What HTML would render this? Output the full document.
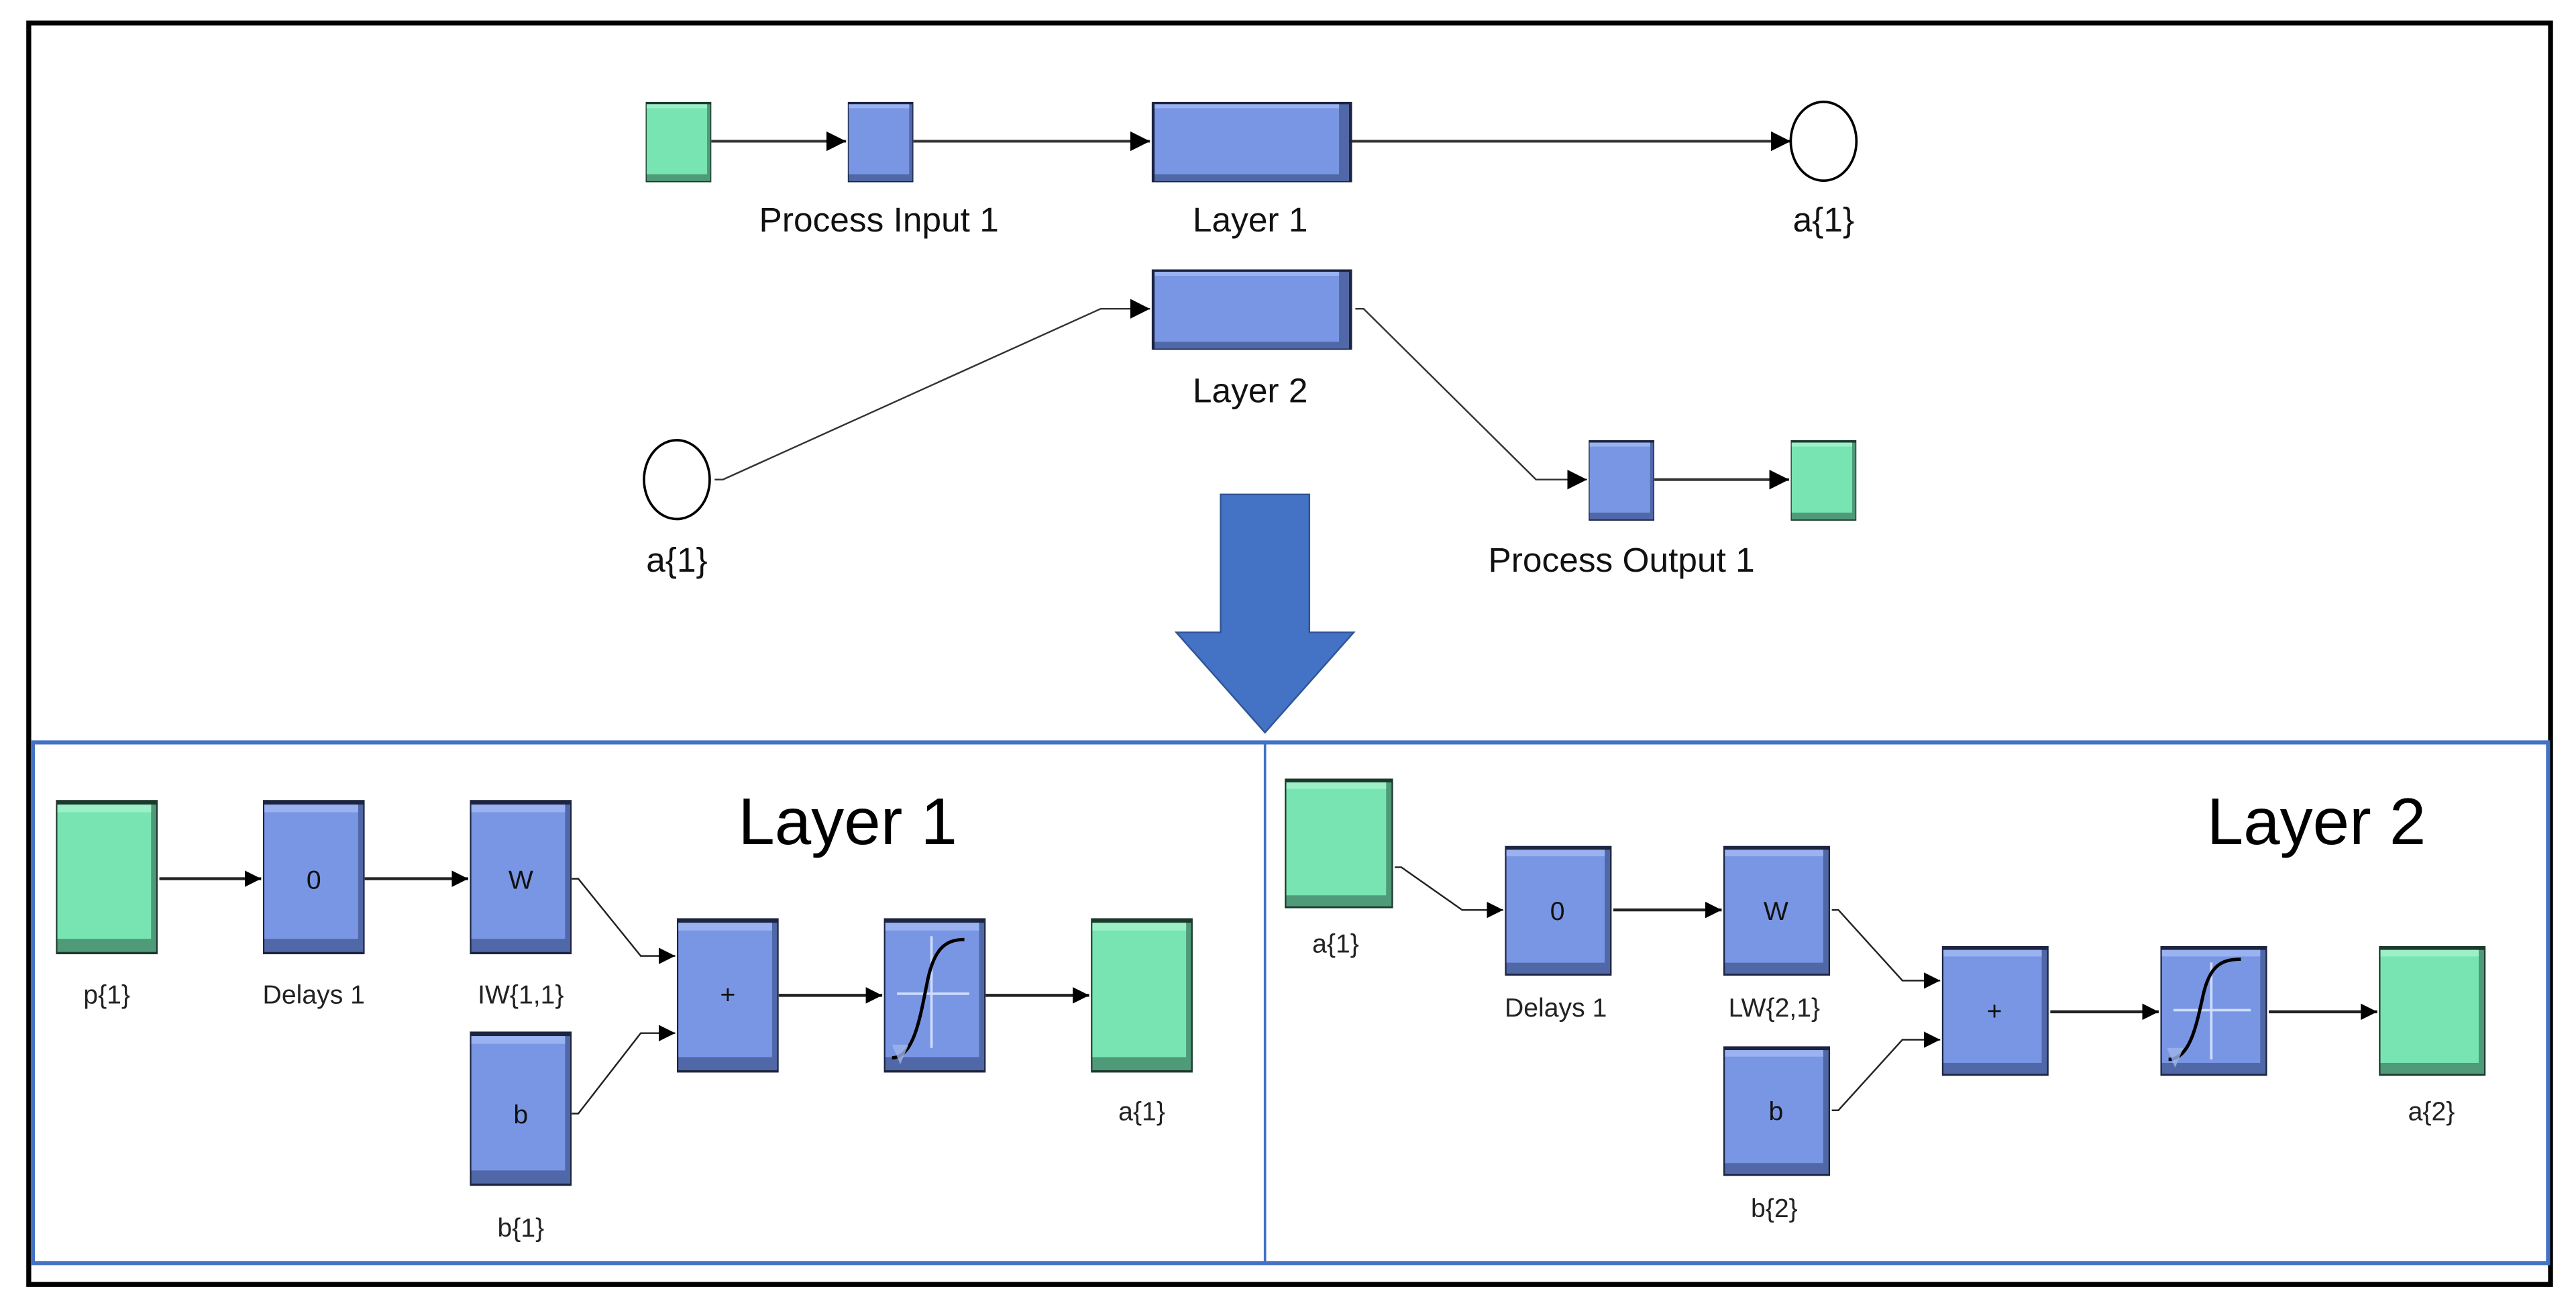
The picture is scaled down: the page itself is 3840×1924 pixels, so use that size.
<!DOCTYPE html>
<html><head><meta charset="utf-8"><style>html,body{margin:0;padding:0;background:#fff}svg{display:block}text{font-family:"Liberation Sans",sans-serif}</style></head>
<body>
<svg width="3840" height="1924" viewBox="0 0 1568 786" preserveAspectRatio="none" xmlns="http://www.w3.org/2000/svg">
<defs>
<symbol id="bb" viewBox="0 0 100 100" preserveAspectRatio="none">
<rect x="0" y="0" width="100" height="100" fill="#1c2440"/>
<rect x="1.5" y="3" width="97" height="95.5" fill="#5068a8"/>
<rect x="1.5" y="3" width="92" height="87" fill="#7896e3"/>
<rect x="1.5" y="3" width="92" height="5" fill="#9ab2f0"/>
</symbol>
<symbol id="gb" viewBox="0 0 100 100" preserveAspectRatio="none">
<rect x="0" y="0" width="100" height="100" fill="#1c3a2c"/>
<rect x="1.5" y="3" width="97" height="95.5" fill="#4f9a78"/>
<rect x="1.5" y="3" width="92" height="87" fill="#78e4b2"/>
<rect x="1.5" y="3" width="92" height="5" fill="#9cf0c8"/>
</symbol>
<marker id="ar" viewBox="0 0 10 10" refX="10" refY="5" markerWidth="10" markerHeight="10" markerUnits="userSpaceOnUse" orient="auto"><path d="M0,0 L10,5 L0,10z" fill="#000"/></marker>
<marker id="ar2" viewBox="0 0 10 10" refX="10" refY="5" markerWidth="12" markerHeight="12" markerUnits="userSpaceOnUse" orient="auto"><path d="M0,0 L10,5 L0,10z" fill="#000"/></marker>
</defs>
<rect width="1568" height="786" fill="#fff"/>
<rect x="17.5" y="14" width="1535" height="768" fill="none" stroke="#000" stroke-width="3"/>

<!-- top diagram -->
<g stroke="#333" stroke-width="1.6" fill="none">
<line x1="433" y1="86" x2="515" y2="86" marker-end="url(#ar2)"/>
<line x1="556" y1="86" x2="700" y2="86" marker-end="url(#ar2)"/>
<line x1="823" y1="86" x2="1090" y2="86" marker-end="url(#ar2)"/>
<polyline points="435,292 440,292 670,188 700,188" stroke-width="1" marker-end="url(#ar2)"/>
<polyline points="825,188 830,188 935,292 966,292" stroke-width="1" marker-end="url(#ar2)"/>
<line x1="1007" y1="292" x2="1089" y2="292" marker-end="url(#ar2)"/>
</g>
<use href="#gb" x="393" y="62" width="40" height="49"/>
<use href="#bb" x="516" y="62" width="40" height="49"/>
<use href="#bb" x="701" y="62" width="122" height="49"/>
<use href="#bb" x="701" y="164" width="122" height="49"/>
<use href="#bb" x="967" y="268" width="40" height="49"/>
<use href="#gb" x="1090" y="268" width="40" height="49"/>
<ellipse cx="1110" cy="86" rx="20" ry="24" fill="#fff" stroke="#000" stroke-width="1.5"/>
<ellipse cx="412" cy="292" rx="20" ry="24" fill="#fff" stroke="#000" stroke-width="1.5"/>
<g font-size="21" text-anchor="middle" fill="#111">
<text x="535" y="141">Process Input 1</text>
<text x="761" y="141">Layer 1</text>
<text x="1110" y="141">a{1}</text>
<text x="761" y="245">Layer 2</text>
<text x="412" y="348">a{1}</text>
<text x="987" y="348">Process Output 1</text>
</g>
<path d="M743,301 L797,301 L797,385 L824,385 L770,446 L716,385 L743,385 Z" fill="#4472c4" stroke="#2f5597" stroke-width="1"/>

<!-- panels -->
<rect x="20" y="452" width="1531" height="317" fill="none" stroke="#4472c4" stroke-width="2.5"/>
<line x1="770" y1="452" x2="770" y2="769" stroke="#4472c4" stroke-width="1.5"/>

<!-- left panel -->
<g stroke="#222" stroke-width="1.8" fill="none">
<line x1="97" y1="535" x2="159" y2="535" marker-end="url(#ar)"/>
<line x1="222" y1="535" x2="285" y2="535" marker-end="url(#ar)"/>
<polyline points="348,535 352,535 390,582 411,582" stroke-width="1" marker-end="url(#ar)"/>
<polyline points="348,678 352,678 390,629 411,629" stroke-width="1" marker-end="url(#ar)"/>
<line x1="474" y1="606" x2="537" y2="606" marker-end="url(#ar)"/>
<line x1="600" y1="606" x2="663" y2="606" marker-end="url(#ar)"/>
</g>
<use href="#gb" x="34" y="487" width="62" height="94"/>
<use href="#bb" x="160" y="487" width="62" height="94"/>
<use href="#bb" x="286" y="487" width="62" height="94"/>
<use href="#bb" x="286" y="628" width="62" height="94"/>
<use href="#bb" x="412" y="559" width="62" height="94"/>
<use href="#bb" x="538" y="559" width="62" height="94"/>
<use href="#gb" x="664" y="559" width="62" height="94"/>
<g stroke="#cfdcff" stroke-width="1.5"><line x1="567" y1="570" x2="567" y2="638"/><line x1="546" y1="605" x2="590" y2="605"/></g>
<path d="M543,644 C556,644 560,620 564,600 C568,578 575,572 587,572" stroke="#000" stroke-width="2" fill="none"/>
<path d="M543,636 L553,636 L548,648 Z" fill="#a0b4e8" opacity="0.8"/>
<g font-size="16" text-anchor="middle" fill="#111">
<text x="191" y="541">0</text><text x="317" y="541">W</text><text x="317" y="684">b</text><text x="443" y="611">+</text>
</g>
<g font-size="16" text-anchor="middle" fill="#222">
<text x="65" y="611">p{1}</text><text x="191" y="611">Delays 1</text><text x="317" y="611">IW{1,1}</text>
<text x="317" y="753">b{1}</text><text x="695" y="682">a{1}</text>
</g>
<text x="516" y="514" font-size="40" text-anchor="middle" fill="#000">Layer 1</text>

<!-- right panel -->
<g stroke="#222" stroke-width="1.8" fill="none">
<polyline points="849,528 853,528 890,554 915,554" stroke-width="1" marker-end="url(#ar)"/>
<line x1="982" y1="554" x2="1048" y2="554" marker-end="url(#ar)"/>
<polyline points="1115,554 1119,554 1158,597 1181,597" stroke-width="1" marker-end="url(#ar)"/>
<polyline points="1115,676 1119,676 1158,633 1181,633" stroke-width="1" marker-end="url(#ar)"/>
<line x1="1248" y1="616" x2="1314" y2="616" marker-end="url(#ar)"/>
<line x1="1381" y1="616" x2="1447" y2="616" marker-end="url(#ar)"/>
</g>
<use href="#gb" x="782" y="474" width="66" height="79"/>
<use href="#bb" x="916" y="515" width="65" height="79"/>
<use href="#bb" x="1049" y="515" width="65" height="79"/>
<use href="#bb" x="1049" y="637" width="65" height="79"/>
<use href="#bb" x="1182" y="576" width="65" height="79"/>
<use href="#bb" x="1315" y="576" width="65" height="79"/>
<use href="#gb" x="1448" y="576" width="65" height="79"/>
<g stroke="#cfdcff" stroke-width="1.5"><line x1="1346" y1="586" x2="1346" y2="645"/><line x1="1323" y1="615" x2="1370" y2="615"/></g>
<path d="M1320,645 C1333,645 1337,624 1341,606 C1345,588 1352,584 1364,584" stroke="#000" stroke-width="2" fill="none"/>
<path d="M1319,638 L1329,638 L1324,650 Z" fill="#a0b4e8" opacity="0.8"/>
<g font-size="16" text-anchor="middle" fill="#111">
<text x="948" y="560">0</text><text x="1081" y="560">W</text><text x="1081" y="682">b</text><text x="1214" y="621">+</text>
</g>
<g font-size="16" text-anchor="middle" fill="#222">
<text x="813" y="580">a{1}</text><text x="947" y="619">Delays 1</text><text x="1080" y="619">LW{2,1}</text>
<text x="1080" y="741">b{2}</text><text x="1480" y="682">a{2}</text>
</g>
<text x="1410" y="514" font-size="40" text-anchor="middle" fill="#000">Layer 2</text>
</svg>
</body></html>
